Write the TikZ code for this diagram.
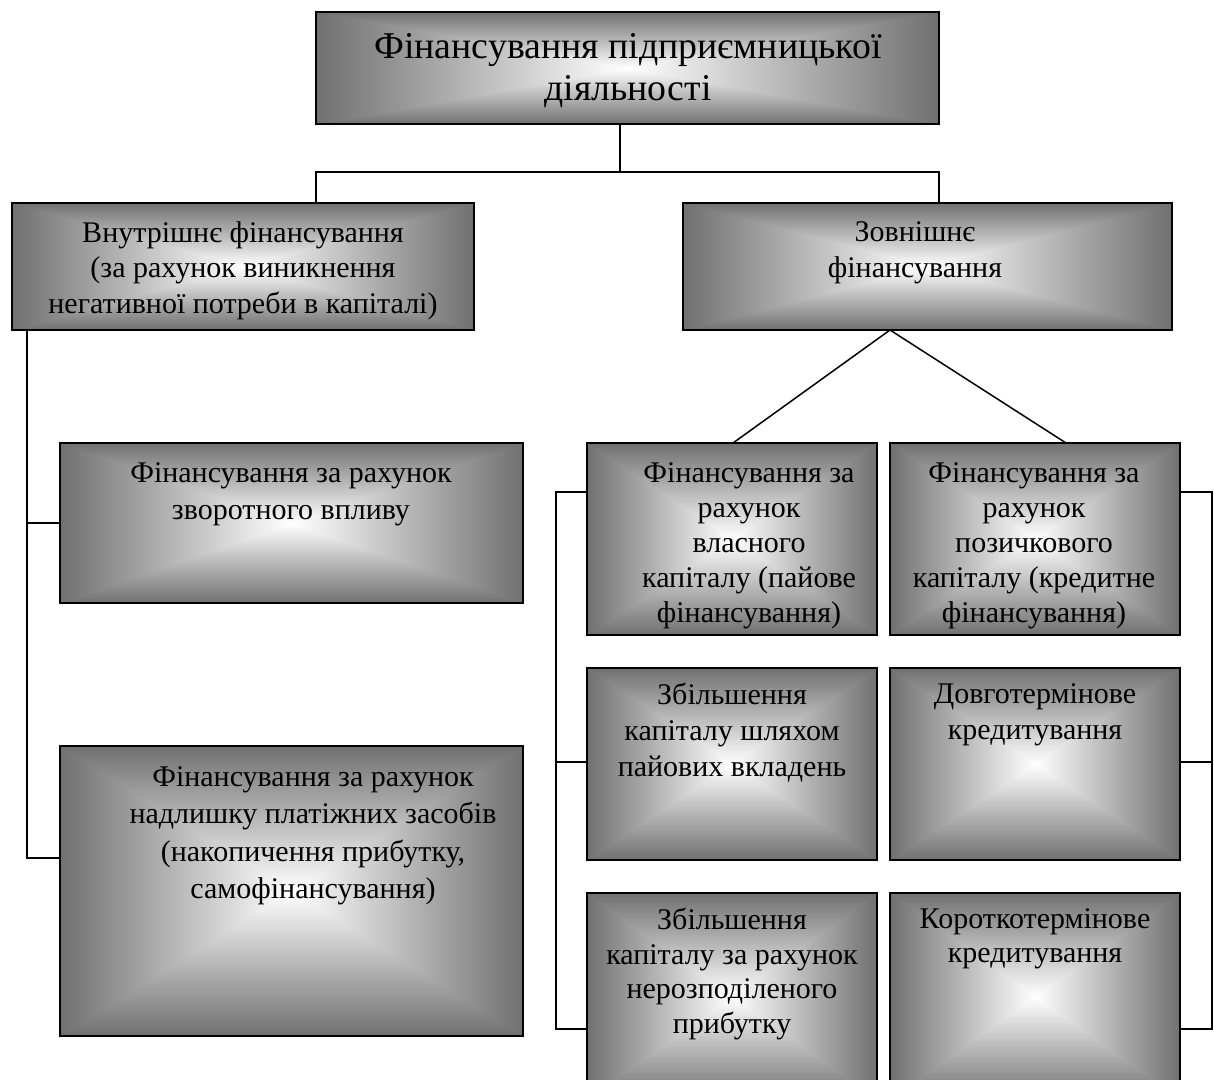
\documentclass[tikz,border=0pt]{standalone}
\usepackage{fontspec}
\setmainfont{Liberation Serif}
\usetikzlibrary{fit,calc}
\pgfdeclarefunctionalshading{rectglow}{\pgfpoint{-50bp}{-50bp}}{\pgfpoint{50bp}{50bp}}{}{%
  abs exch abs 2 copy gt {pop} {exch pop} ifelse
  25 div dup 1 gt {pop 1} if
  0.56 mul 1 exch sub dup dup
}
\tikzset{
  box/.style={draw=black, line width=1.8pt, shading=rectglow, inner sep=0pt, rectangle},
  conn/.style={draw=black, line width=1.5pt},
  lbl/.style={anchor=north, align=center, inner sep=0pt, font=\fontsize{30}{35}\selectfont},
  widelbl/.style={lbl, font=\fontsize{30}{37.5}\selectfont},
  biglbl/.style={anchor=north, align=center, inner sep=0pt, font=\fontsize{37.8}{42}\selectfont}
}
\begin{document}
\begin{tikzpicture}[x=1pt, y=-1pt]
\useasboundingbox (0,0) rectangle (1214,1079);

% boxes
\node[box, fit={(316,12) (939,124)}] (top) {};
\node[box, fit={(12,203) (474,330)}] (inner) {};
\node[box, fit={(683,203) (1172,330)}] (outer) {};
\node[box, fit={(60,443) (523,603)}] (back) {};
\node[box, fit={(60,746) (523,1036)}] (surplus) {};
\node[box, fit={(587,443) (877,635)}] (own) {};
\node[box, fit={(890,443) (1180,635)}] (loan) {};
\node[box, fit={(587,668) (877,860)}] (share) {};
\node[box, fit={(890,668) (1180,860)}] (longc) {};
\node[box, fit={(587,893) (877,1100)}] (retained) {};
\node[box, fit={(890,893) (1180,1100)}] (shortc) {};

% texts
\node[biglbl] (ttop) at (628,33) {Фінансування підприємницької\\діяльності};
\node[lbl, font=\fontsize{30}{35.5}\selectfont] (tinner) at (243,221) {Внутрішнє фінансування\\(за рахунок виникнення\\негативної потреби в капіталі)};
\node[lbl, font=\fontsize{30}{36}\selectfont] (touter) at (915,221) {Зовнішнє\\фінансування};
\node[widelbl] (tback) at (291,462) {Фінансування за рахунок\\зворотного впливу};
\node[widelbl] (tsurplus) at (313,766) {Фінансування за рахунок\\надлишку платіжних засобів\\(накопичення прибутку,\\самофінансування)};
\node[lbl] (town) at (749,462) {Фінансування за\\рахунок\\власного\\капіталу (пайове\\фінансування)};
\node[lbl] (tloan) at (1034,462) {Фінансування за\\рахунок\\позичкового\\капіталу (кредитне\\фінансування)};
\node[lbl, font=\fontsize{30}{36}\selectfont] (tshare) at (732,683) {Збільшення\\капіталу шляхом\\пайових вкладень};
\node[lbl, font=\fontsize{30}{36}\selectfont] (tlongc) at (1035,683) {Довготермінове\\кредитування};
\node[lbl, font=\fontsize{30}{34.5}\selectfont] (tretained) at (732,908) {Збільшення\\капіталу за рахунок\\нерозподіленого\\прибутку};
\node[lbl, font=\fontsize{30}{34.5}\selectfont] (tshortc) at (1035,908) {Короткотермінове\\кредитування};

% connector points
\coordinate (j) at (620,172);
\coordinate (jl) at (316,172);
\coordinate (jr) at (939,172);
\coordinate (apex) at (890,330);
\coordinate (ownend) at (733,443);
\coordinate (loanend) at (1066,443);
\coordinate (lc1) at (27,330);
\coordinate (lc2) at (27,523);
\coordinate (lc3) at (27,858);
\coordinate (bl1) at (556,492);
\coordinate (bl2) at (556,762);
\coordinate (bl3) at (556,1029);
\coordinate (br1) at (1212,492);
\coordinate (br2) at (1212,762);
\coordinate (br3) at (1212,1029);

% connectors
\draw[conn] (top.south -| j) -- (j);
\draw[conn] (inner.north -| jl) -- (jl) -- (jr) -- (outer.north -| jr);
\draw[conn] (ownend) -- (apex) -- (loanend);
\draw[conn] (lc1) -- (lc3) -- (lc3 -| surplus.west);
\draw[conn] (lc2) -- (lc2 -| back.west);
\draw[conn] (bl1 -| own.west) -- (bl1) -- (bl3) -- (bl3 -| retained.west);
\draw[conn] (bl2) -- (bl2 -| share.west);
\draw[conn] (br1 -| loan.east) -- (br1) -- (br3) -- (br3 -| shortc.east);
\draw[conn] (br2) -- (br2 -| longc.east);
\end{tikzpicture}
\end{document}
